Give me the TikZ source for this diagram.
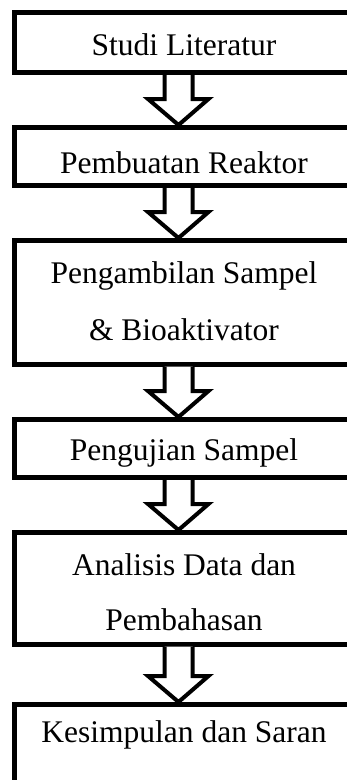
\documentclass[tikz,border=0pt]{standalone}
\usepackage{fontspec}
\setmainfont{Liberation Serif}
\usetikzlibrary{calc}
\newcommand{\bigfont}{\fontsize{31.5pt}{38pt}\selectfont}
\tikzset{
  box/.style={draw=black, line width=5pt, rectangle, minimum width=339pt, inner sep=0pt},
  lbl/.style={anchor=base, inner sep=0pt, font=\bigfont},
  bigarrow/.style={draw=black, fill=white, line width=4pt, miter limit=10}
}
\newcommand{\flowarrow}[2]{%
  \draw[bigarrow] let \p1=(#1.south), \p2=(#2.north) in
    (\x1-19.5pt,\y1) -- (\x1-19.5pt,\y2+26pt) -- (\x1-36pt,\y2+26pt) -- (\x1-5.5pt,\y2)
    -- (\x1+24.5pt,\y2+26pt) -- (\x1+8.5pt,\y2+26pt) -- (\x1+8.5pt,\y1);}
\begin{document}
\begin{tikzpicture}[x=1pt,y=1pt]
\useasboundingbox (0,0) rectangle (347,-780);
\node[box, minimum height=60pt] (b1) at (184,-42.5) {};
\node[box, minimum height=58pt] (b2) at (184,-156.5) {};
\node[box, minimum height=123.5pt] (b3) at (184,-302.25) {};
\node[box, minimum height=58pt] (b4) at (184,-448.5) {};
\node[box, minimum height=111.5pt] (b5) at (184,-588.25) {};
\node[box, minimum height=100pt] (b6) at (184,-754.5) {};
\node[lbl] (t1) at (184,-55) {\bigfont Studi Literatur};
\node[lbl] (t2) at (184,-173) {\bigfont Pembuatan Reaktor};
\node[lbl] (t3a) at (184,-283) {\bigfont Pengambilan Sampel};
\node[lbl] (t3b) at (184,-340) {\bigfont \& Bioaktivator};
\node[lbl] (t4) at (184,-460) {\bigfont Pengujian Sampel};
\node[lbl] (t5a) at (184,-575) {\bigfont Analisis Data dan};
\node[lbl] (t5b) at (184,-630) {\bigfont Pembahasan};
\node[lbl] (t6) at (184,-742) {\bigfont Kesimpulan dan Saran};
\flowarrow{b1}{b2}
\flowarrow{b2}{b3}
\flowarrow{b3}{b4}
\flowarrow{b4}{b5}
\flowarrow{b5}{b6}
\end{tikzpicture}
\end{document}
